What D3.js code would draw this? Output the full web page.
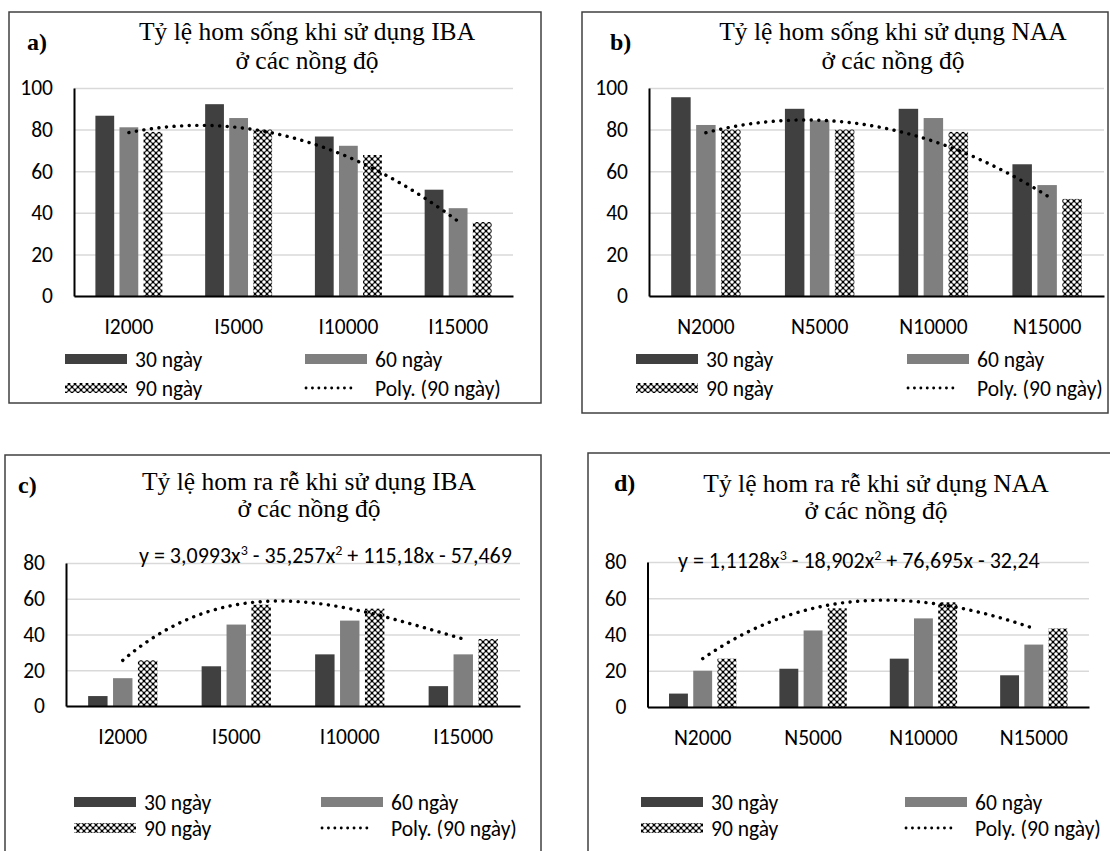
<!DOCTYPE html>
<html>
<head>
<meta charset="utf-8">
<script src="https://cdn.jsdelivr.net/npm/d3@7"></script>
<style>
  body { margin: 0; background: #fff; }
  .tick text, .lab { font-family: "Carlito", "Lato", sans-serif; fill: #000; }
  .ttl { font-family: "Liberation Serif", "Times New Roman", serif; fill: #000; }
</style>
</head>
<body>
<svg id="chart" width="1110" height="851"></svg>
<script>
// categories
const catsIBA = ["I2000", "I5000", "I10000", "I15000"];
const catsNAA = ["N2000", "N5000", "N10000", "N15000"];
const seriesNames = ["30 ngày", "60 ngày", "90 ngày"];
const trendName = "Poly. (90 ngày)";

// a) ty le hom song - IBA
const songIBA30 = [86.67, 92.22, 76.67, 51.11];
const songIBA60 = [81.11, 85.56, 72.22, 42.22];
const songIBA90 = [78.89, 80.00, 67.78, 35.56];
// b) ty le hom song - NAA
const songNAA30 = [95.56, 90.00, 90.00, 63.33];
const songNAA60 = [82.22, 84.44, 85.56, 53.33];
const songNAA90 = [80.00, 80.00, 78.89, 46.67];
// c) ty le ra re - IBA
const reIBA30 = [5.56, 22.22, 28.89, 11.11];
const reIBA60 = [15.56, 45.56, 47.78, 28.89];
const reIBA90 = [25.55, 56.66, 54.44, 37.49];
// d) ty le ra re - NAA
const reNAA30 = [7.4, 21.11, 26.67, 17.5];
const reNAA60 = [20.0, 42.22, 48.89, 34.44];
const reNAA90 = [26.67, 54.44, 57.77, 43.33];

const ticks100 = [0, 20, 40, 60, 80, 100];
const ticks80 = [0, 20, 40, 60, 80];

const eqIBA = ["y = 3,0993x", "3", " - 35,257x", "2", " + 115,18x - 57,469"];
const eqNAA = ["y = 1,1128x", "3", " - 18,902x", "2", " + 76,695x - 32,24"];

const colors = ["#404040", "#7f7f7f", "url(#checker)"];

const svg = d3.select("#chart");

// checker pattern for the 90 ngay series
const pat = svg.append("defs").append("pattern")
    .attr("id", "checker")
    .attr("patternUnits", "userSpaceOnUse")
    .attr("width", 6).attr("height", 6);
pat.append("rect").attr("width", 6).attr("height", 6).attr("fill", "#000");
[[0, 0], [6, 0], [0, 6], [6, 6], [3, 3]].forEach(p => {
    pat.append("circle").attr("cx", p[0]).attr("cy", p[1]).attr("r", 1.8).attr("fill", "#fff");
});

// least squares polynomial, like excel trendline
function polyFit(xs, ys, order) {
    const n = order + 1;
    const A = d3.range(n).map(r => {
        const row = d3.range(n).map(c => d3.sum(xs, x => Math.pow(x, r + c)));
        row.push(d3.sum(xs, (x, i) => ys[i] * Math.pow(x, r)));
        return row;
    });
    for (let i = 0; i < n; i++) {
        for (let k = i + 1; k < n; k++) {
            const f = A[k][i] / A[i][i];
            for (let j = i; j <= n; j++) A[k][j] -= f * A[i][j];
        }
    }
    const coef = new Array(n).fill(0);
    for (let i = n - 1; i >= 0; i--) {
        let s = A[i][n];
        for (let j = i + 1; j < n; j++) s -= A[i][j] * coef[j];
        coef[i] = s / A[i][i];
    }
    return x => coef.reduce((s, c, i) => s + c * Math.pow(x, i), 0);
}

const panels = [
    { label: "a)", title: ["Tỷ lệ hom sống khi sử dụng IBA", "ở các nồng độ"], cats: catsIBA,
      values: [songIBA30, songIBA60, songIBA90], ticks: ticks100, order: 2, eq: null,
      box: [9, 12, 541, 403], plot: [74, 513, 296, 88], titleX: 307, titleY: [40, 69], labelXY: [27, 42],
      legX: [65, 305], legY: [359, 388] },
    { label: "b)", title: ["Tỷ lệ hom sống khi sử dụng NAA", "ở các nồng độ"], cats: catsNAA,
      values: [songNAA30, songNAA60, songNAA90], ticks: ticks100, order: 2, eq: null,
      box: [582, 12, 1108, 413], plot: [649, 1104, 296, 88], titleX: 893, titleY: [40, 69], labelXY: [610, 42],
      legX: [636, 907], legY: [359, 388] },
    { label: "c)", title: ["Tỷ lệ hom ra rễ khi sử dụng IBA", "ở các nồng độ"], cats: catsIBA,
      values: [reIBA30, reIBA60, reIBA90], ticks: ticks80, order: 3, eq: eqIBA, eqX: 139, eqY: 563,
      box: [5, 455, 541, 870], plot: [66, 520, 706, 563], titleX: 309, titleY: [490, 517], labelXY: [18, 485],
      legX: [74, 321], legY: [802, 828] },
    { label: "d)", title: ["Tỷ lệ hom ra rễ khi sử dụng NAA", "ở các nồng độ"], cats: catsNAA,
      values: [reNAA30, reNAA60, reNAA90], ticks: ticks80, order: 3, eq: eqNAA, eqX: 678, eqY: 568,
      box: [588, 453, 1120, 870], plot: [647.5, 1089, 707, 562], titleX: 876, titleY: [492, 519], labelXY: [614, 483],
      legX: [641, 905], legY: [802, 828] }
];

panels.forEach(p => {
    const g = svg.append("g");
    const [bx0, by0, bx1, by1] = p.box;
    g.append("rect")
        .attr("x", bx0).attr("y", by0)
        .attr("width", bx1 - bx0).attr("height", by1 - by0)
        .attr("fill", "none").attr("stroke", "#404040").attr("stroke-width", 1.5);

    g.append("text").attr("class", "ttl")
        .attr("x", p.labelXY[0]).attr("y", p.labelXY[1])
        .attr("dy", "0.35em")
        .attr("font-size", 24).attr("font-weight", "bold")
        .text(p.label);

    p.title.forEach((t, i) => {
        g.append("text").attr("class", "ttl")
            .attr("x", p.titleX).attr("y", p.titleY[i])
            .attr("text-anchor", "middle")
            .attr("font-size", 25.5)
            .text(t);
    });

    const [x0, x1, yb, yt] = p.plot;
    const yMax = d3.max(p.ticks);
    const y = d3.scaleLinear().domain([0, yMax]).range([yb, yt]);
    const x = d3.scaleBand().domain(p.cats).range([x0, x1]);
    const bw = x.bandwidth();
    const gw = bw * 0.61;
    const xs = d3.scaleBand().domain([0, 1, 2])
        .range([(bw - gw) / 2, (bw + gw) / 2]).paddingInner(0.22);

    // gridlines
    const grid = g.append("g").attr("transform", `translate(${x0},0)`)
        .call(d3.axisLeft(y).tickValues(p.ticks).tickSize(-(x1 - x0)).tickFormat(""));
    grid.select(".domain").remove();
    grid.selectAll("line").attr("stroke", "#d9d9d9").attr("stroke-width", 1.5);

    // bars
    p.values.forEach((vals, si) => {
        g.selectAll(null)
            .data(vals)
            .enter()
            .append("rect")
            .attr("x", (d, i) => x(p.cats[i]) + xs(si))
            .attr("y", d => y(d))
            .attr("width", xs.bandwidth())
            .attr("height", d => yb - y(d))
            .attr("fill", colors[si]);
    });

    // y axis
    const ya = g.append("g").attr("transform", `translate(${x0},0)`)
        .call(d3.axisLeft(y).tickValues(p.ticks).tickSize(0).tickPadding(21));
    ya.select(".domain").attr("stroke", "#000").attr("stroke-width", 2);
    ya.selectAll("text").attr("font-size", 21.5);

    // x axis
    const xa = g.append("g").attr("transform", `translate(0,${yb})`)
        .call(d3.axisBottom(x).tickSize(0).tickPadding(23));
    xa.select(".domain").attr("stroke", "#000").attr("stroke-width", 2.2);
    xa.selectAll("text").attr("font-size", 21.5);

    // polynomial trendline of the 90 ngay series
    const idx = p.cats.map((c, i) => i + 1);
    const f = polyFit(idx, p.values[2], p.order);
    const xt = d3.scaleLinear().domain([1, p.cats.length])
        .range([x(p.cats[0]) + bw / 2, x(p.cats[p.cats.length - 1]) + bw / 2]);
    const line = d3.line().x(d => xt(d)).y(d => y(f(d)));
    g.append("path")
        .datum(d3.range(1, p.cats.length + 0.001, 0.02))
        .attr("d", line)
        .attr("fill", "none").attr("stroke", "#000")
        .attr("stroke-width", 3.4).attr("stroke-linecap", "round")
        .attr("stroke-dasharray", "0.1 7.5");

    if (p.eq) {
        const et = g.append("text").attr("class", "lab")
            .attr("x", p.eqX).attr("y", p.eqY).attr("dy", "0.35em")
            .attr("font-size", 22);
        p.eq.forEach((part, i) => {
            const sup = i % 2 === 1;
            et.append("tspan")
                .attr("font-size", sup ? 14 : 22)
                .attr("dy", sup ? -8 : (i > 0 ? 8 : 0))
                .text(part);
        });
    }

    // legend
    const legItems = [
        { name: seriesNames[0], fill: colors[0], col: 0, row: 0 },
        { name: seriesNames[1], fill: colors[1], col: 1, row: 0 },
        { name: seriesNames[2], fill: colors[2], col: 0, row: 1 },
        { name: trendName, fill: null, col: 1, row: 1 }
    ];
    legItems.forEach(it => {
        const lx = p.legX[it.col], ly = p.legY[it.row];
        if (it.fill) {
            g.append("rect").attr("x", lx).attr("y", ly - 5)
                .attr("width", 62).attr("height", 10).attr("fill", it.fill);
        } else {
            g.append("line").attr("x1", lx + 1).attr("x2", lx + 52)
                .attr("y1", ly).attr("y2", ly)
                .attr("stroke", "#000").attr("stroke-width", 2.8)
                .attr("stroke-linecap", "round").attr("stroke-dasharray", "0.1 6.3");
        }
        g.append("text").attr("class", "lab")
            .attr("x", lx + 70).attr("y", ly).attr("dy", "0.35em")
            .attr("font-size", 21.5)
            .text(it.name);
    });
});
</script>
</body>
</html>
